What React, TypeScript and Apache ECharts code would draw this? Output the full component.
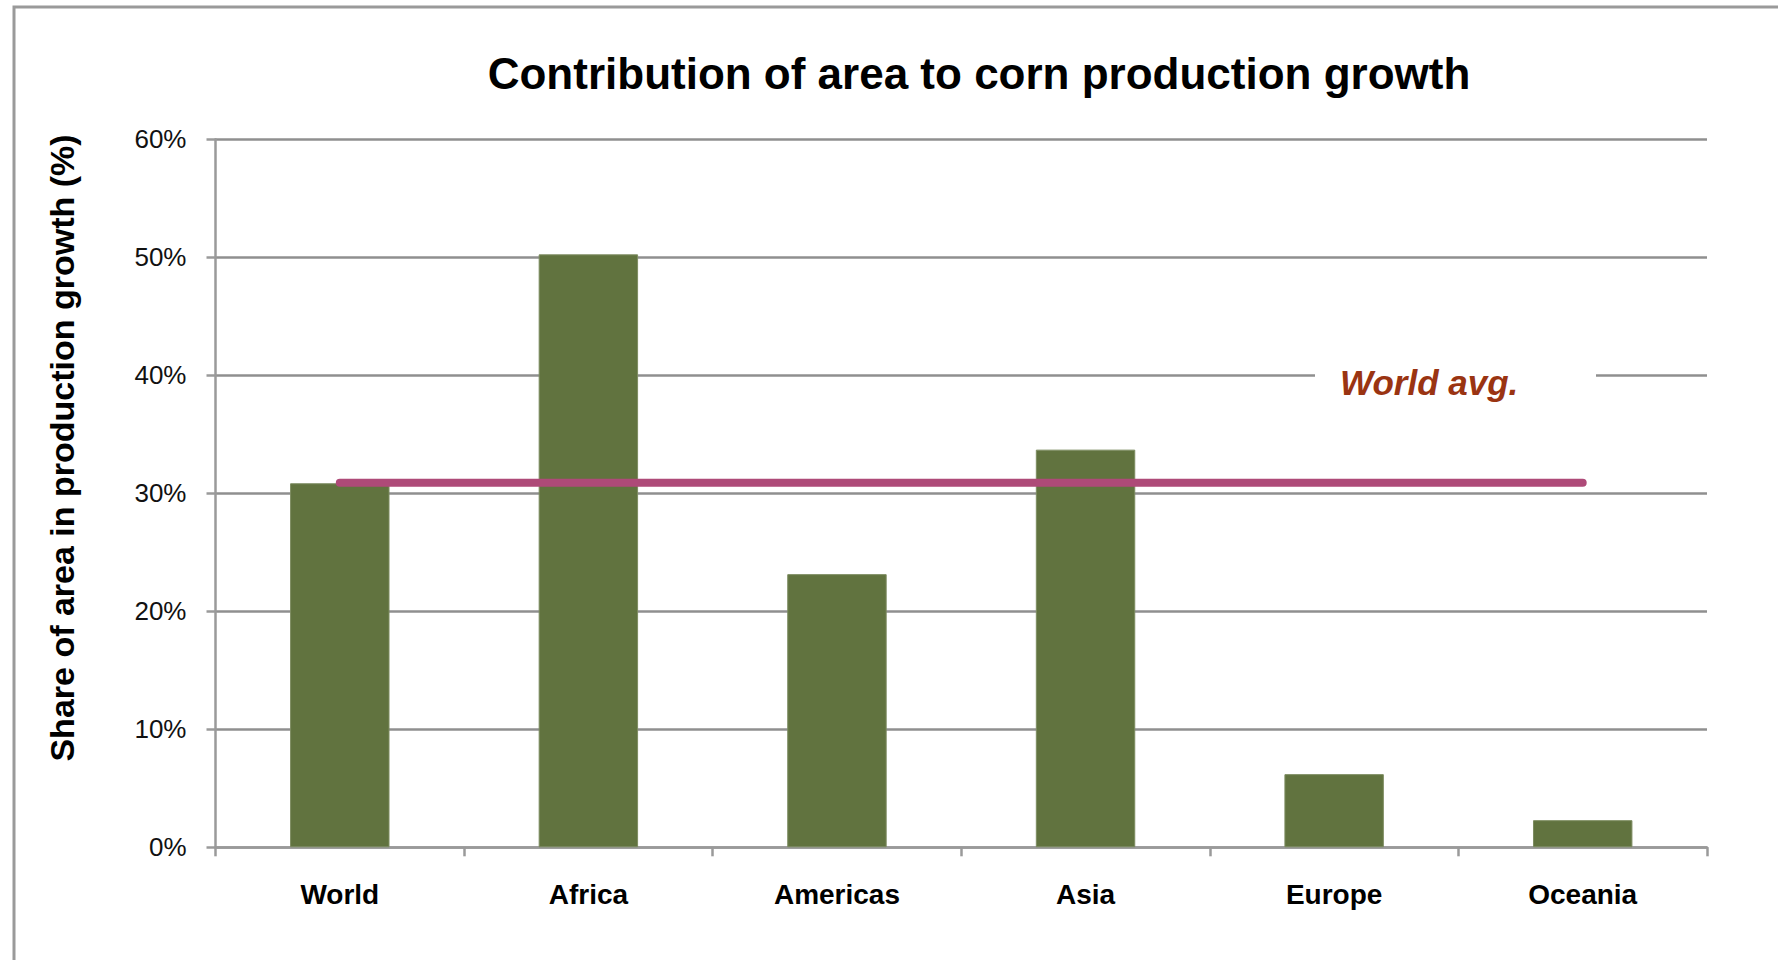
import React, { useEffect, useRef } from "react";
import * as echarts from "echarts";

const categories = ["World", "Africa", "Americas", "Asia", "Europe", "Oceania"];
const areaShare = [30.85, 50.25, 23.15, 33.7, 6.2, 2.3];
const worldAvg = [30.9, 30.9, 30.9, 30.9, 30.9, 30.9];
const yMin = 0;
const yMax = 60;
const yInterval = 10;

const titleText = "Contribution of area to corn production growth";
const yTitleText = "Share of area in production growth (%)";
const avgLabelText = "World avg.";

const FONT = "'Liberation Sans', Arial, Helvetica, sans-serif";

export default function App() {
  const ref = useRef<HTMLDivElement>(null);
  useEffect(() => {
    const chart = echarts.init(ref.current!, null, { renderer: "svg" });
    chart.setOption({
      animation: false,
      backgroundColor: "#ffffff",
      title: {
        text: titleText,
        left: 974,
        top: 46,
        textAlign: "center",
        textStyle: { fontFamily: FONT, fontSize: 44, fontWeight: "bold", color: "#000" },
      },
      grid: { left: 215.5, right: 71, top: 139.3, bottom: 112.7, containLabel: false },
      xAxis: {
        type: "category",
        data: categories,
        boundaryGap: true,
        axisLine: { show: true, lineStyle: { color: "#9a9a9a", width: 2.5 } },
        axisTick: { show: true, length: 9, lineStyle: { color: "#9a9a9a", width: 2.5 } },
        axisLabel: { fontFamily: FONT, fontSize: 28, fontWeight: "bold", color: "#000", margin: 33 },
        splitLine: { show: false },
      },
      yAxis: {
        type: "value",
        min: yMin,
        max: yMax,
        interval: yInterval,
        axisLine: { show: true, lineStyle: { color: "#9a9a9a", width: 2.5 } },
        axisTick: { show: true, length: 9, lineStyle: { color: "#9a9a9a", width: 2.5 } },
        axisLabel: {
          formatter: "{value}%",
          fontFamily: FONT,
          fontSize: 26,
          color: "#111",
          margin: 29,
          padding: [14, 0, 0, 0],
        },
        splitLine: { show: true, lineStyle: { color: "#8f8f8f", width: 2.5 } },
      },
      series: [
        {
          type: "bar",
          data: areaShare,
          barWidth: "40%",
          itemStyle: { color: "#61733f", borderColor: "#7d8c61", borderWidth: 1 },
          z: 2,
        },
        {
          type: "line",
          data: worldAvg,
          symbol: "none",
          lineStyle: { color: "#ae4a78", width: 8, cap: "round" },
          z: 3,
        },
      ],
      graphic: [
        {
          type: "rect",
          shape: { x: 14, y: 7, width: 1800, height: 1000 },
          style: { fill: "none", stroke: "#9a9a9a", lineWidth: 3 },
          silent: true,
        },
        {
          type: "text",
          x: 62,
          y: 448,
          rotation: Math.PI / 2,
          style: {
            text: yTitleText,
            fontFamily: FONT,
            fontSize: 34,
            fontWeight: "bold",
            fill: "#000",
            align: "center",
            verticalAlign: "middle",
          },
        },
        {
          type: "rect",
          shape: { x: 1315, y: 368, width: 281, height: 14 },
          style: { fill: "#ffffff" },
          z: 10,
        },
        {
          type: "text",
          x: 1340,
          y: 382,
          z: 11,
          style: {
            text: avgLabelText,
            fontFamily: FONT,
            fontSize: 35,
            fontWeight: "bold",
            fontStyle: "italic",
            fill: "#9a3412",
            align: "left",
            verticalAlign: "middle",
          },
        },
      ],
    });
    return () => chart.dispose();
  }, []);
  return (
    <div
      ref={ref}
      style={{ position: "absolute", left: 0, top: 0, width: 1778, height: 960 }}
    />
  );
}
